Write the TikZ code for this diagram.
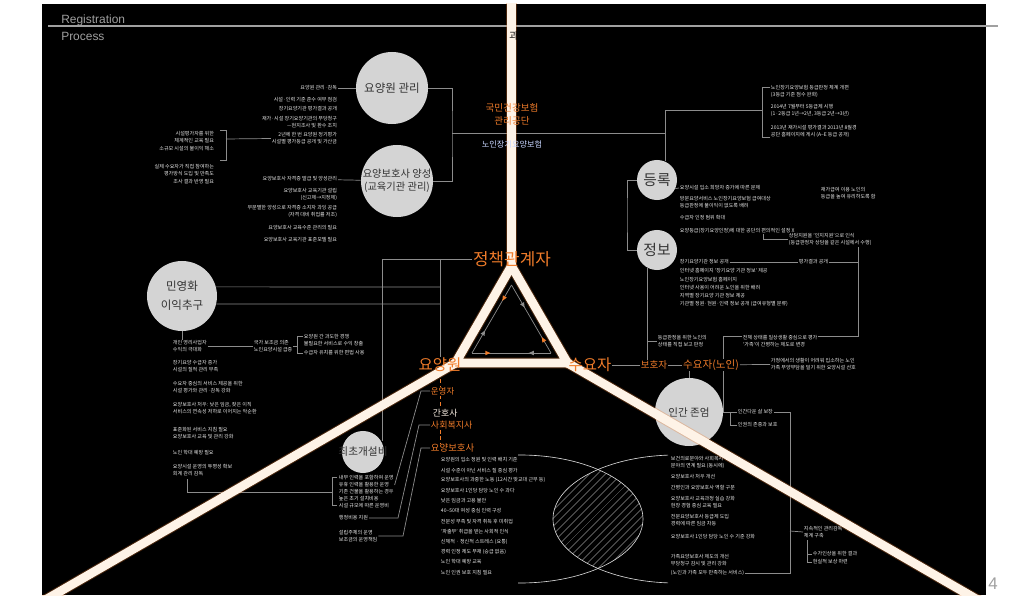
\documentclass[tikz,border=0pt]{standalone}
\usepackage{fontspec}
\setmainfont{Noto Sans CJK KR}
\newfontfamily\latinsans{Liberation Sans}
\usetikzlibrary{positioning, patterns.meta, decorations.markings}
\definecolor{careorange}{RGB}{240,124,42}
\definecolor{bubgray}{RGB}{212,212,212}
\definecolor{wiregray}{RGB}{140,140,140}
\definecolor{beamcream}{RGB}{254,243,231}
\definecolor{hdrgray}{RGB}{160,160,160}
\definecolor{paleblue}{RGB}{200,214,255}
\definecolor{hatchgray}{RGB}{190,190,190}
\pgfdeclarelayer{bottom}
\pgfdeclarelayer{background}
\pgfdeclarelayer{front}
\pgfsetlayers{bottom,background,main,front}
\newcommand{\tk}{\fontsize{3.6}{5}\selectfont}

\begin{document}
\begin{tikzpicture}[x=0.025cm, y=-0.025cm,
    wire/.style={draw=wiregray, line width=0.5pt},
    odash/.style={draw=careorange, line width=0.7pt, dash pattern=on 2.5pt off 2pt},
    beam/.style={draw=beamcream, line width=0.22cm},
    glow/.style={draw=careorange, line width=0.27cm, opacity=0.3},
    venn/.style={draw=white!85!black, line width=0.45pt},
    bub/.style={circle, fill=bubgray, inner sep=0pt, minimum size=#1},
    bubtext/.style={text=black!80, align=center, inner sep=0pt},
    note/.style={text=white!92!black, font=\tk, align=left, anchor=west, inner sep=0.5pt},
    noter/.style={text=white!92!black, font=\tk, align=right, anchor=east, inner sep=0.5pt},
    big/.style={text=careorange, font=\fontsize{11}{13}\selectfont, inner sep=0.5pt},
    mid/.style={text=careorange, font=\fontsize{7}{8}\selectfont, inner sep=0.5pt},
    staff/.style={text=careorange, anchor=west, inner sep=0.5pt},
    hdr/.style={font=\latinsans\fontsize{8.5}{10}\selectfont, text=hdrgray, inner sep=0pt},
    tri/.style={draw=wiregray, line width=0.5pt, postaction={decorate},
        decoration={markings,
        mark=at position #1 with {\fill[wiregray] (1.8pt,0pt) -- (-1.8pt,1.6pt) -- (-1.8pt,-1.6pt) -- cycle;},
        mark=at position 0.8 with {\fill[careorange] (-1.8pt,0pt) -- (1.8pt,1.6pt) -- (1.8pt,-1.6pt) -- cycle;}}}
]
    % Page
    \begin{pgfonlayer}{bottom}
        \fill[white] (0,0) rectangle (1015,610);
        \fill[black] (42,4) rectangle (986,595);
        \draw[hdrgray, line width=0.8pt] (48,26) -- (998,26);
    \end{pgfonlayer}
    \node[hdr, anchor=base west] (regtitle) at (61,24) {Registration};
    \node[hdr, anchor=base west] (proctitle) at (61,41) {Process};
    \node[hdr, font=\latinsans\fontsize{12}{14}\selectfont] (pnum) at (993,584) {4};

    % Circles
    \node[bub=1.8cm] (facility) at (392,88) {};
    \node[bubtext, font=\fontsize{8.2}{10}\selectfont] at (facility) {요양원 관리};
    \node[bub=1.8cm] (training) at (397,181) {};
    \node[bubtext, font=\fontsize{7.3}{9.3}\selectfont] at (training) {요양보호사 양성\\(교육기관 관리)};
    \node[bub=1.75cm] (privat) at (182,296) {};
    \node[bubtext, font=\fontsize{8.2}{13.5}\selectfont] at (privat) {민영화\\이익추구};
    \node[bub=1cm] (register) at (657,180) {};
    \node[bubtext, font=\fontsize{10.5}{12}\selectfont] at (register) {등록};
    \node[bub=1cm] (info) at (657,250) {};
    \node[bubtext, font=\fontsize{10.5}{12}\selectfont] at (info) {정보};
    \node[bub=1.7cm] (dignity) at (689,412) {};
    \node[bubtext, font=\fontsize{7.5}{9}\selectfont] at (dignity) {인간 존엄};
    \node[bub=1.05cm] (setupcost) at (363,452) {};
    \node[bubtext, font=\fontsize{7.6}{9}\selectfont] at (setupcost) {최초개설비};

    % Facility / training notes
    \node[noter] (fa1) at (338,88) {요양원 관리·감독};
    \node[noter] (fa2) at (338,100) {시설·인력 기준 준수 여부 점검};
    \node[noter] (fa3) at (338,109) {장기요양기관 평가결과 공개};
    \node[noter] (fa4) at (338,122.5) {재가·시설 장기요양기관의 부당청구\\—현지조사 및 환수 조치};
    \node[noter] (fa5) at (338,138.5) {2년에 한 번 요양원 정기평가\\시설별 평가등급 공개 및 가산금};
    \node[noter, font=\fontsize{3.6}{5.6}\selectfont] (fb1) at (215,141) {시설평가자를 위한\\체계적인 교육 필요\\소규모 시설의 불이익 해소};
    \node[noter, font=\fontsize{3.6}{5.6}\selectfont] (fb2) at (215,174) {실제 수요자가 직접 참여하는\\평가방식 도입 및 만족도\\조사 결과 반영 필요};
    \node[noter] (tr1) at (338,179) {요양보호사 자격증 발급 및 양성관리};
    \node[noter] (tr2) at (338,194.5) {요양보호사 교육기관 설립\\(신고제→지정제)};
    \node[noter] (tr3) at (338,211.5) {무분별한 양성으로 자격증 소지자 과잉 공급\\(자격 대비 취업률 저조)};
    \node[noter] (tr4) at (338,228) {요양보호사 교육수준 관리의 필요};
    \node[noter] (tr5) at (338,240) {요양보호사 교육기관 표준모델 필요};

    % Top right notes
    \node[note] (rt1) at (770,91) {노인장기요양보험 등급판정 체계 개편\\(3등급 기준 점수 완화)};
    \node[note] (rt2) at (770,110) {2014년 7월부터 5등급제 시행\\(1·2등급 1년→2년, 3등급 2년→3년)};
    \node[note] (rt3) at (770,131.5) {2013년 재가시설 평가결과 2013년 8월경\\공단 홈페이지에 게시 (A--E 등급 공개)};

    % Register / info notes
    \node[note] (rg1) at (679,188) {요양시설 입소 희망자 증가에 따른 문제};
    \node[note] (rg2) at (679,202.5) {방문요양서비스 노인장기요양보험 급여대상\\등급판정에 불이익이 없도록 배려};
    \node[note] (rg3) at (679,218) {수급자 인정 범위 확대};
    \node[note] (rg4) at (679,231) {요양등급(장기요양인정)에 대한 공단의 편의적인 설정 X};
    \node[note] (rg5) at (820,193.5) {재가급여 이용 노인의\\등급을 높여 유리하도록 함};
    \node[note] (rg6) at (788,239.5) {상담지원을 '인지지원'으로 인식\\(등급판정자 상담을 같은 시설에서 수행)};
    \node[note] (in1) at (679,262) {장기요양기관 정보 공개};
    \node[note] (in2) at (798,262) {평가결과 공개};
    \node[note] (in3) at (679,271) {인터넷 홈페이지 '장기요양 기관 정보' 제공};
    \node[note] (in4) at (679,280) {노인장기요양보험 홈페이지};
    \node[note] (in5) at (679,287.5) {인터넷 사용이 어려운 노인을 위한 배려};
    \node[note] (in6) at (679,296) {지역별 장기요양 기관 정보 제공};
    \node[note] (in7) at (679,304) {기관별 정원·현원·인력 정보 공개 (급여유형별 분류)};
    \node[note] (ig1) at (657,341) {등급판정을 위한 노인의\\상태를 직접 보고 판정};
    \node[note, fill=black] (el2) at (742,341) {전체 상태를 일상생활 중심으로 평가\\'가족'이 간병하는 제도로 변경};
    \node[note] (el1) at (770,364) {가정에서의 생활이 어려워 입소하는 노인\\가족 부양부담을 덜기 위한 요양시설 선호};

    % Dignity notes
    \node[note] (dg1) at (737,412) {인간다운 삶 보장};
    \node[note] (dg2) at (737,425) {인권의 존중과 보호};
    \node[note] (cs1) at (803,532) {지속적인 관리감독\\체계 구축};
    \node[note] (cs2) at (812,554) {수가인상을 위한 결과};
    \node[note] (cs3) at (812,562) {현실적 보상 마련};
    \node[note] (vn1) at (670,462.5) {보건의료분야와 사회복지\\분야의 연계 필요 (동시에)};
    \node[note] (vn2) at (670,477) {요양보호사 처우 개선};
    \node[note] (vn3) at (670,488) {간병인과 요양보호사 역할 구분};
    \node[note] (vn4) at (670,502.5) {요양보호사 교육과정 실습 강화\\현장 경험 중심 교육 필요};
    \node[note] (vn5) at (670,520.5) {전문요양보호사 등급제 도입\\경력에 따른 임금 차등};
    \node[note] (vn6) at (670,537) {요양보호사 1인당 담당 노인 수 기준 강화};
    \node[note] (vn7) at (670,560) {가족요양보호사 제도의 개선\\부당청구 감시 및 관리 강화};
    \node[note] (vn8) at (670,573) {(노인과 가족 모두 만족하는 서비스)};

    % Privatisation notes
    \node[note] (pv1) at (172,346.5) {개인 영리사업자\\수익의 극대화};
    \node[note] (pv2) at (253,346.5) {국가 보조금 의존\\노인요양시설 급증};
    \node[note] (pv3) at (303,340) {요양원 간 과도한 경쟁\\불필요한 서비스로 수익 창출};
    \node[note] (pv4) at (303,353) {수급자 유치를 위한 편법 사용};
    \node[note] (pv5) at (172,366.5) {장기요양 수급자 증가\\시설의 질적 관리 부족};
    \node[note] (pv6) at (172,387.5) {수요자 중심의 서비스 제공을 위한\\시설 평가와 관리·감독 강화};
    \node[note] (pv7) at (172,408) {요양보호사 처우: 낮은 임금, 잦은 이직\\서비스의 연속성 저하로 이어지는 악순환};
    \node[note] (pv8) at (172,433.5) {표준화된 서비스 지침 필요\\요양보호사 교육 및 관리 강화};
    \node[note] (pv9) at (172,453) {노인 학대 예방 필요};
    \node[note] (pv10) at (172,470.5) {요양시설 운영의 투명성 확보\\회계 관리 감독};

    % Setup cost notes
    \node[note] (su1) at (338,485) {내부 인력을 포함하여 운영\\유휴 인력을 활용한 운영\\기존 건물을 활용하는 경우};
    \node[note] (su2) at (338,502.5) {높은 초기 설치비용\\시설 규모에 따른 운영비};
    \node[note] (su3) at (338,518) {행정비용 지원};
    \node[note] (su4) at (338,536) {설립주체의 운영\\보조금의 운영책임};

    % Staff
    \node[staff, font=\fontsize{6}{7}\selectfont] (operator) at (430,391) {운영자};
    \node[staff, text=beamcream, font=\fontsize{6.3}{7}\selectfont] (nurse) at (432,413) {간호사};
    \node[staff, font=\fontsize{6.4}{7}\selectfont] (socwork) at (430,425) {사회복지사};
    \node[staff, font=\fontsize{6.7}{8}\selectfont] (carer) at (430,448) {요양보호사};
    \foreach \txt [count=\i] in {{요양원의 입소 정원 및 인력 배치 기준},{시설 수준이 아닌 서비스 질 중심 평가},
        {요양보호사의 과중한 노동 (12시간 맞교대 근무 등)},{요양보호사 1인당 담당 노인 수 과다},
        {낮은 임금과 고용 불안},{40--50대 여성 중심 인력 구성},{전문성 부족 및 자격 취득 후 미취업},
        {'파출부' 취급을 받는 사회적 인식},{신체적 · 정신적 스트레스 (요통)},{경력 인정 제도 부재 (승급 없음)},
        {노인 학대 예방 교육},{노인 인권 보호 지침 필요}}
        \node[note] (cr\i) at (440,449.8+10.2*\i) {\txt};

    % Row of demand side
    \node[mid, font=\fontsize{6.8}{8}\selectfont] (guard) at (654,365) {보호자};
    \node[mid, font=\fontsize{7.5}{9}\selectfont] (elder) at (711,365) {수요자(노인)};

    % Beams and labels
    \begin{pgfonlayer}{front}
        \coordinate (apex) at (511.5,266);
        \coordinate (lv) at (455.5,363);
        \coordinate (rv) at (567.5,363);
        \begin{scope}
            \clip (42,4) rectangle (986,595);
            \draw[glow] (511.5,0) -- (apex);
            \draw[glow] (lv) -- (40,603);
            \draw[glow] (rv) -- (990,607);
            \draw[glow, line join=round] (apex) -- (lv) -- (rv) -- cycle;
            \draw[beam] (511.5,0) -- (apex);
            \draw[beam] (lv) -- (40,603);
            \draw[beam] (rv) -- (990,607);
            \draw[beam, line join=round] (apex) -- (lv) -- (rv) -- cycle;
        \end{scope}
        \coordinate (iap) at (511.5,285);
        \coordinate (ilv) at (472,353);
        \coordinate (irv) at (551,353);
        \draw[tri=0.3] (ilv) -- (iap);
        \draw[tri=0.3] (iap) -- (irv);
        \draw[tri=0.25] (irv) -- (ilv);
        \node[text=black, font=\fontsize{7}{8}\selectfont, inner sep=0pt] (gwa) at (514,36) {과};
        \node[big, font=\fontsize{12}{14}\selectfont] (policy) at (512,259) {정책관계자};
        \node[big] (nursing) at (440,365) {요양원};
        \node[big] (demand) at (590,365) {수요자};
        \node[text=careorange, align=center, font=\fontsize{6.8}{9.2}\selectfont, inner sep=0.5pt] (nhis) at (512,114.5) {국민건강보험\\관리공단};
        \node[text=paleblue, font=\fontsize{5.8}{7}\selectfont, inner sep=0.5pt] (ltci) at (512,144) {노인장기요양보험};
    \end{pgfonlayer}

    % Connectors
    \begin{pgfonlayer}{background}
        \coordinate (bkt) at (452,133);
        \coordinate (regjoin) at (665,133);
        \coordinate (plj) at (382,259);
        \coordinate (nlj) at (440,259);
        \draw[wire] (facility.east) -| (bkt) |- (training.east);
        \draw[wire] (bkt) -- (regjoin);
        \draw[wire] (register.66) |- (762,110);
        \draw[wire] (770,87) -| (762,137) -- (770,137);
        \draw[wire] (register.west) -| (627,215) |- (info.west);
        \draw[wire] (fa1) -- (facility);
        \draw[wire] (tr1) -- (training);
        \draw[wire] (fa5.west) -- (226,139);
        \draw[wire] (220,130) -- (226,130) -- (226,160) -- (220,160);
        % register and info
        \draw[wire] (register.-25) -- (rg1.west);
        \draw[wire] (763,234) |- (rg6.west);
        \draw[wire] (in1.east) -- (in2.west);
        \draw[wire] (in2.east) -- (858,262);
        \draw[wire] (858,247) |- (723,336) -- (elder.north -| 723,336);
        \draw[wire] (info.-120) -- (info.-120 |- guard.north);
        \draw[wire] (ig1.west -| info.-120) -- (ig1.west);
        % demand row
        \draw[wire] (demand) -- (guard);
        \draw[wire] (guard) -- (elder);
        \draw[wire] (elder) -- (el1);
        \draw[wire] (elder.south -| dignity.north) -- (dignity.north);
        \draw[wire] (elder.south -| dignity.east) -- (dignity.east);
        \draw[wire] (dignity.east) -- (730,412);
        \draw[wire] (dg1.west) -| (730,425) -- (dg2.west);
        \draw[wire] (dg1.east) -| (790,573) -- (vn8.east);
        \draw[wire] (790,531) -- (cs1.west);
        \draw[wire] (807,540) |- (cs3.west);
        \draw[wire] (807,554) -- (cs2.west);
        % policy side
        \draw[wire] (plj) -- (policy.west);
        \draw[wire] (plj) -- (382,441);
        \draw[wire] (nlj) -- (nursing.north);
        \draw[wire] (privat.15) -- (440,287);
        \draw[wire] (privat.-13) -- (440,304);
        \draw[wire] (privat.south) -- (pv1.north -| privat.south);
        \draw[wire] (pv1) -- (pv2);
        \draw[wire] (pv2.east) -- (297,346.5);
        \draw[wire] (303,336) -| (297,353) -- (303,353);
        \draw[wire] (187,479) |- (332,492);
        \draw[wire] (337,477) -| (332,505) -- (337,505);
        % setup cost to staff
        \draw[wire] (su1.east) -- (421,391) -- (operator.west);
        \draw[wire] (su3.east) -- (398,518) -- (419,425) -- (socwork.west);
        \draw[wire] (su4.east) -- (403,536) -- (421,448) -- (carer.west);
        \draw[odash] (nursing.south) -- (nursing.south |- operator.north);
        \draw[odash] (operator.south -| nursing.south) -- (nursing.south |- nurse.north);
        \draw[odash] (socwork.south -| nursing.south) -- (nursing.south |- carer.north);
        % venn
        \begin{scope}
            \clip (520,519) ellipse [x radius=123, y radius=64];
            \fill[pattern={Lines[angle=45, distance=4pt, line width=0.45pt]}, pattern color=hatchgray]
                (676,519) ellipse [x radius=123, y radius=64];
        \end{scope}
        \begin{scope}
            \clip (518,440) rectangle (668,600);
            \draw[venn] (520,519) ellipse [x radius=123, y radius=64];
            \draw[venn] (676,519) ellipse [x radius=123, y radius=64];
        \end{scope}
    \end{pgfonlayer}
\end{tikzpicture}
\end{document}
